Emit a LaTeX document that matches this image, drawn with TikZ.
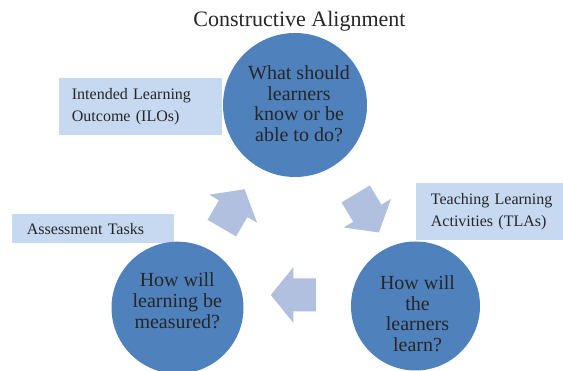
\documentclass[tikz,border=0pt]{standalone}
\usepackage{fontspec}
\setmainfont{Liberation Serif}
\usetikzlibrary{positioning}

\definecolor{circleblue}{HTML}{4F81BD}
\definecolor{boxblue}{HTML}{C6D9F1}
\definecolor{arrowblue}{HTML}{B0C0DE}
\definecolor{textgray}{HTML}{262626}

% block arrow of the cycle: #1 centre, #2 direction
\newcommand{\cyclearrow}[2]{%
  \fill[arrowblue, shift={#1}, rotate=#2]
    (-22.5,-16.5) -- (0,-16.5) -- (0,-27.75) -- (22.5,0)
    -- (0,27.75) -- (0,16.5) -- (-22.5,16.5) -- cycle;}

\begin{document}
\begin{tikzpicture}[x=1pt, y=-1pt]
        \tikzset{bubble/.style={circle, fill=circleblue, inner sep=0pt},
          bubble text/.style={align=center, text=textgray, font=\fontsize{20}{20.8}\selectfont},
          label box/.style={rectangle, fill=boxblue, anchor=north west, align=left, text=textgray,
            font=\fontsize{16}{22}\selectfont, inner xsep=14.7pt, inner ysep=0pt}}

        \useasboundingbox (0,0) rectangle (563,371);

        \node[font=\fontsize{22}{26}\selectfont, text=textgray, anchor=base] (title) at (299.5,27) {Constructive Alignment};

        \node[label box, inner xsep=12.7pt, text width=137.6pt, minimum height=57pt] (ilo) at (59,77.7) {Intended Learning\\Outcome (ILOs)};
        \node[label box, text width=132.6pt, minimum height=28.7pt] (tasks) at (12,214) {Assessment Tasks};
        \node[label box, text width=125pt, minimum height=57.3pt] (tla) at (416,182.7) {Teaching Learning\\Activities (TLAs)};

        \node[bubble, minimum size=144pt] (know) at (295,105) {};
        \node[bubble, minimum size=132pt] (measure) at (177.5,307.7) {};
        \node[bubble, minimum size=129pt] (learn) at (415.5,306) {};

        \node[bubble text] (know_text) at (299,103.7) {What should\\learners\\know or be\\able to do?};
        \node[bubble text] (measure_text) at (177.3,300.7) {How will\\learning be\\measured?};
        \node[bubble text] (learn_text) at (417.5,313.7) {How will\\the\\learners\\learn?};

        \cyclearrow{(233.2,208.7)}{59.6}
        \cyclearrow{(367.3,213.2)}{-58.9}
        \cyclearrow{(293.3,295)}{180}
    \end{tikzpicture}
\end{document}
